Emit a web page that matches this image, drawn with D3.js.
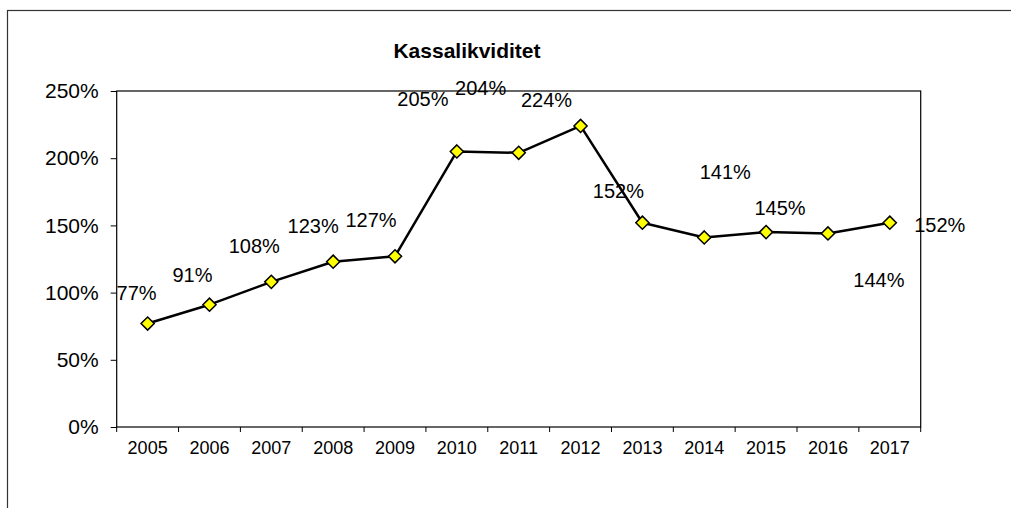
<!DOCTYPE html>
<html>
<head>
<meta charset="utf-8">
<script src="https://cdn.jsdelivr.net/npm/d3@7/dist/d3.min.js"></script>
<style>
  body { margin: 0; background: #fff; }
  svg { display: block; font-family: 'Liberation Sans', Arial, sans-serif; }
</style>
</head>
<body>
<svg width="1011" height="508"></svg>
<script>
var years = ['2005', '2006', '2007', '2008', '2009', '2010', '2011', '2012', '2013', '2014', '2015', '2016', '2017']
var values = [0.77, 0.91, 1.08, 1.23, 1.27, 2.05, 2.04, 2.24, 1.52, 1.41, 1.45, 1.44, 1.52]
var yTicks = [0, 0.5, 1, 1.5, 2, 2.5]
var title = 'Kassalikviditet'

// label offsets from each marker (Excel moved them by hand)
var labelDx = [-11, -17, -17, -20, -24, -34, -38, -34, -24, 21, 14, 51, 50]
var labelDy = [-24, -23, -29, -29, -29, -45, -58, -19, -25, -58, -17, 54, 9]

var svg = d3.select('svg'),
  plot = {left: 116.7, top: 91, right: 920.7, bottom: 427}

var pct = d3.format('.0%')

var x = d3.scaleBand().domain(years).range([plot.left, plot.right]).padding(0)
var y = d3.scaleLinear().domain([0, 2.5]).range([plot.bottom, plot.top])

// outer chart border (runs off the right and bottom of the picture)
svg.append('rect')
    .attr('x', 7.5)
    .attr('y', 10.5)
    .attr('width', 1020)
    .attr('height', 520)
    .attr('fill', 'none')
    .attr('stroke', '#333')
    .attr('stroke-width', 1.2)

svg.append('text')
    .attr('x', 467)
    .attr('y', 58)
    .attr('text-anchor', 'middle')
    .attr('font-size', 21)
    .attr('font-weight', 'bold')
    .text(title)

// y axis
var yAxis = d3.axisLeft(y)
    .tickValues(yTicks)
    .tickFormat(pct)
    .tickSize(6)
    .tickSizeOuter(0)
    .tickPadding(12)

var gy = svg.append('g')
    .attr('transform', 'translate(' + plot.left + ',0)')
    .call(yAxis)
gy.select('.domain').remove()
gy.selectAll('line').attr('stroke', '#000')
gy.selectAll('text')
    .attr('font-size', 21)
    .attr('font-family', 'Liberation Sans, Arial, sans-serif')
    .attr('fill', '#000')

// x axis labels at band centres
var xAxis = d3.axisBottom(x).tickSize(0).tickPadding(14)
var gx = svg.append('g')
    .attr('transform', 'translate(0,' + plot.bottom + ')')
    .call(xAxis)
gx.select('.domain').remove()
gx.selectAll('text')
    .attr('font-size', 18)
    .attr('font-family', 'Liberation Sans, Arial, sans-serif')
    .attr('fill', '#000')

// x ticks between categories
var edges = years.map(function (d) { return x(d) }).concat([x.range()[1]])
svg.append('g').selectAll('line')
    .data(edges)
  .enter().append('line')
    .attr('x1', function (d) { return d })
    .attr('x2', function (d) { return d })
    .attr('y1', plot.bottom)
    .attr('y2', plot.bottom + 5)
    .attr('stroke', '#000')

var cx = function (d, i) { return x(years[i]) + x.bandwidth() / 2 }

var line = d3.line()
    .x(cx)
    .y(function (d) { return y(d) })

svg.append('path')
    .datum(values)
    .attr('fill', 'none')
    .attr('stroke', '#000')
    .attr('stroke-width', 2.5)
    .attr('stroke-linejoin', 'round')
    .attr('d', line)

var diamond = d3.symbol().type(d3.symbolDiamond2).size(110)

svg.append('g').selectAll('path')
    .data(values)
  .enter().append('path')
    .attr('transform', function (d, i) { return 'translate(' + cx(d, i) + ',' + y(d) + ')' })
    .attr('d', diamond)
    .attr('fill', '#ffff00')
    .attr('stroke', '#000')
    .attr('stroke-width', 1.5)

svg.append('g').selectAll('text')
    .data(values)
  .enter().append('text')
    .attr('x', function (d, i) { return cx(d, i) + labelDx[i] })
    .attr('y', function (d, i) { return y(d) + labelDy[i] })
    .attr('text-anchor', 'middle')
    .attr('font-size', 20)
    .text(function (d) { return pct(d) })

// plot area frame
svg.append('rect')
    .attr('x', plot.left)
    .attr('y', plot.top)
    .attr('width', plot.right - plot.left)
    .attr('height', plot.bottom - plot.top)
    .attr('fill', 'none')
    .attr('stroke', '#000')
    .attr('stroke-width', 1.2)
</script>
</body>
</html>
